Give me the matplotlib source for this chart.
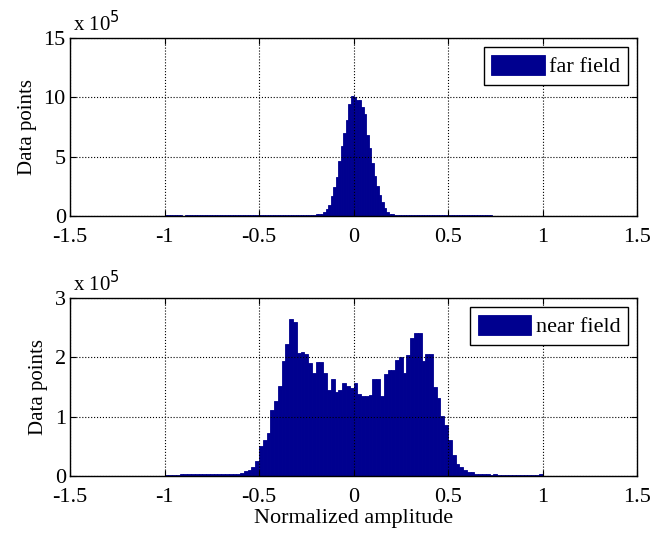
import numpy as np
import matplotlib
matplotlib.use('Agg')
from matplotlib import pyplot as plt

plt.rcParams['font.family'] = ['Liberation Serif', 'DejaVu Serif']
plt.rcParams['axes.unicode_minus'] = False

# far field histogram: 150 bins over [-1, 1], counts in units of 1e5
far_edges = np.linspace(-1, 1, 151)
far_counts = [
    0.06, 0.08, 0.05, 0.09, 0.07, 0.08, 0.06, 0.04, 0.08, 0.07,
    0.09, 0.06, 0.08, 0.05, 0.07, 0.08, 0.06, 0.09, 0.07, 0.05,
    0.08, 0.06, 0.07, 0.09, 0.05, 0.08, 0.06, 0.07, 0.08, 0.05,
    0.07, 0.09, 0.06, 0.08, 0.07, 0.05, 0.08, 0.06, 0.09, 0.07,
    0.06, 0.08, 0.07, 0.09, 0.06, 0.08, 0.07, 0.08, 0.09, 0.07,
    0.08, 0.09, 0.08, 0.10, 0.09, 0.10, 0.09, 0.11, 0.10, 0.12,
    0.14, 0.16, 0.20, 0.30, 0.55, 0.93, 1.68, 2.47, 3.26, 4.60,
    5.90, 7.00, 8.10, 9.40, 10.1, 10.0, 9.80, 9.75, 9.20, 8.60,
    6.80, 5.70, 4.50, 3.40, 2.50, 1.80, 1.15, 0.70, 0.35, 0.20,
    0.13, 0.10, 0.09, 0.08, 0.09, 0.07, 0.08, 0.09, 0.07, 0.08,
    0.06, 0.08, 0.07, 0.09, 0.06, 0.08, 0.07, 0.06, 0.08, 0.07,
    0.09, 0.06, 0.07, 0.08, 0.06, 0.07, 0.08, 0.06, 0.07, 0.05,
    0.07, 0.06, 0.08, 0.05, 0.07, 0.06, 0.05, 0.07, 0.06, 0.05,
    0.0, 0.0, 0.0, 0.0, 0.0, 0.0, 0.0, 0.0, 0.0, 0.0,
    0.0, 0.0, 0.0, 0.0, 0.0, 0.0, 0.0, 0.0, 0.0, 0.0,
]

# near field histogram: 100 bins over [-1, 1], counts in units of 1e5
near_edges = np.linspace(-1, 1, 101)
near_counts = [
    0.01, 0.01, 0.01, 0.01, 0.03, 0.03, 0.03, 0.04, 0.03, 0.04,
    0.03, 0.04, 0.03, 0.04, 0.04, 0.03, 0.04, 0.04, 0.03, 0.04,
    0.05, 0.08, 0.10, 0.15, 0.26, 0.51, 0.60, 0.72, 1.12, 1.27,
    1.52, 1.93, 2.22, 2.65, 2.60, 2.08, 2.09, 2.05, 1.90, 1.73,
    1.92, 1.92, 1.73, 1.45, 1.63, 1.42, 1.45, 1.57, 1.52, 1.49,
    1.56, 1.39, 1.35, 1.35, 1.37, 1.63, 1.63, 1.35, 1.72, 1.79,
    1.79, 1.96, 2.00, 1.74, 2.04, 2.32, 2.41, 2.41, 1.93, 2.05,
    2.05, 1.50, 1.31, 1.01, 0.86, 0.60, 0.35, 0.21, 0.15, 0.10,
    0.07, 0.06, 0.04, 0.03, 0.03, 0.03, 0.02, 0.03, 0.02, 0.02,
    0.02, 0.02, 0.02, 0.01, 0.02, 0.01, 0.01, 0.02, 0.02, 0.03,
]

x_ticks = [-1.5, -1, -0.5, 0, 0.5, 1, 1.5]
x_ticklabels = ['-1.5', '-1', '-0.5', '0', '0.5', '1', '1.5']
far_yticks = [0, 5, 10, 15]
near_yticks = [0, 1, 2, 3]

bar_color = '#00008f'
fs = 16

fig = plt.figure(figsize=(6.52, 5.35), dpi=100)
ax1 = fig.add_axes([0.1074, 0.5963, 0.8696, 0.3327])
ax2 = fig.add_axes([0.1074, 0.1103, 0.8696, 0.3327])


def draw_hist(ax, edges, counts, yticks, name):
    ax.bar(edges[:-1], counts, width=np.diff(edges), align='edge',
           color=bar_color, edgecolor=bar_color, linewidth=0.6,
           label=name, zorder=2)
    ax.set_xlim(-1.5, 1.5)
    ax.set_ylim(yticks[0], yticks[-1])
    ax.set_xticks(x_ticks)
    ax.set_xticklabels(x_ticklabels)
    ax.set_yticks(yticks)
    ax.grid(True, color='black', linestyle=':', linewidth=0.8)
    ax.set_axisbelow(False)
    ax.tick_params(direction='in', top=True, right=True, length=4,
                   labelsize=fs, width=0.8)
    ax.tick_params(axis='x', pad=9)
    ax.tick_params(axis='y', pad=3)
    for s in ax.spines.values():
        s.set_linewidth(1.0)
        s.set_zorder(3)
    ax.set_ylabel('Data points', fontsize=fs - 1, labelpad=5)
    ax.text(0.005, 1.01, r'x 10$^5$', transform=ax.transAxes,
            fontsize=fs - 1, ha='left', va='bottom')
    leg = ax.legend(loc='upper right', fontsize=fs, fancybox=False,
                    handlelength=2.4, handleheight=1.0, borderpad=0.35,
                    handletextpad=0.2, borderaxespad=0.4)
    leg.get_frame().set_edgecolor('black')
    leg.get_frame().set_linewidth(1.0)
    leg.get_frame().set_alpha(1)


draw_hist(ax1, far_edges, far_counts, far_yticks, 'far field')
draw_hist(ax2, near_edges, near_counts, near_yticks, 'near field')
ax2.set_xlabel('Normalized amplitude', fontsize=fs, labelpad=1)

fig.savefig('out.png', dpi=100)
